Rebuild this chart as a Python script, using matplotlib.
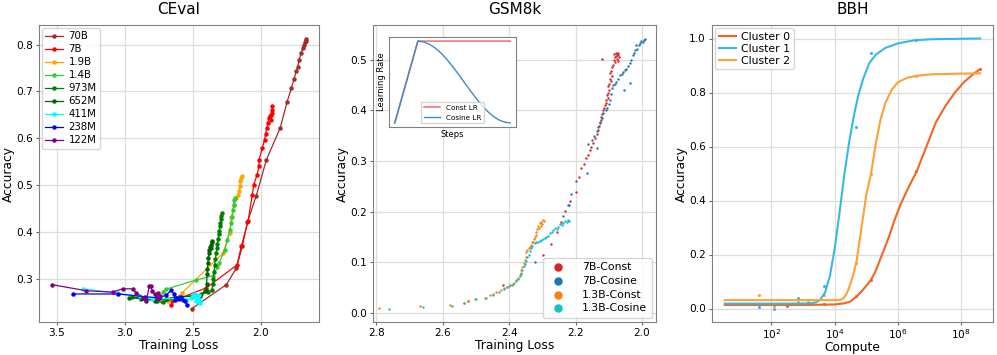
import numpy as np
import matplotlib
matplotlib.use('Agg')
import matplotlib.pyplot as plt

# ---------------- CEval: accuracy vs training loss per model size ----------------
ceval_names = ['70B', '7B', '1.9B', '1.4B', '973M', '652M', '411M', '238M', '122M']
ceval_colors = ['brown', 'red', 'orange', 'limegreen', 'green', 'darkgreen', 'cyan', 'blue', 'purple']

loss_70b = [2.505, 2.253, 2.179, 2.135, 2.098, 2.032, 1.958, 1.855, 1.806, 1.774, 1.755, 1.738, 1.726,
            1.718, 1.701, 1.689, 1.681, 1.674, 1.669, 1.664]
acc_70b = [0.237, 0.288, 0.323, 0.370, 0.421, 0.478, 0.554, 0.623, 0.677, 0.707, 0.726, 0.743, 0.753,
           0.767, 0.782, 0.793, 0.800, 0.805, 0.808, 0.813]
loss_7b = [2.657, 2.655, 2.400, 2.174, 2.142, 2.093, 2.061, 2.051, 2.027, 2.012, 2.012, 1.988, 1.971,
           1.963, 1.954, 1.946, 1.939, 1.929, 1.921, 1.925, 1.918, 1.914, 1.914]
acc_7b = [0.244, 0.252, 0.281, 0.330, 0.370, 0.423, 0.480, 0.501, 0.522, 0.540, 0.554, 0.579, 0.597,
          0.610, 0.622, 0.633, 0.643, 0.647, 0.650, 0.640, 0.655, 0.661, 0.670]
loss_19b = [2.730, 2.680, 2.620, 2.580, 2.277, 2.228, 2.215, 2.196, 2.179, 2.167, 2.160, 2.154, 2.149,
            2.142, 2.140]
acc_19b = [0.252, 0.254, 0.258, 0.270, 0.355, 0.398, 0.433, 0.458, 0.473, 0.480, 0.487, 0.498, 0.508,
           0.515, 0.520]
loss_14b = [2.720, 2.700, 2.473, 2.350, 2.320, 2.306, 2.265, 2.245, 2.228, 2.215, 2.208, 2.204, 2.199,
            2.196, 2.191]
acc_14b = [0.273, 0.278, 0.298, 0.307, 0.325, 0.334, 0.362, 0.384, 0.405, 0.419, 0.433, 0.448, 0.458,
           0.469, 0.473]
loss_973m = [2.950, 2.850, 2.760, 2.720, 2.620, 2.500, 2.440, 2.390, 2.360, 2.352, 2.348, 2.344, 2.338,
             2.333, 2.328, 2.323, 2.318, 2.313, 2.309, 2.305, 2.300, 2.296, 2.292, 2.289, 2.286]
acc_973m = [0.262, 0.258, 0.252, 0.250, 0.260, 0.264, 0.268, 0.272, 0.276, 0.290, 0.300, 0.315, 0.330,
            0.342, 0.355, 0.365, 0.375, 0.385, 0.395, 0.403, 0.412, 0.420, 0.428, 0.435, 0.441]
loss_652m = [2.970, 2.880, 2.780, 2.700, 2.600, 2.500, 2.449, 2.412, 2.400, 2.398, 2.395, 2.392, 2.388,
             2.385, 2.382, 2.378, 2.372, 2.368, 2.365, 2.362, 2.360]
acc_652m = [0.260, 0.258, 0.254, 0.258, 0.262, 0.264, 0.263, 0.274, 0.276, 0.290, 0.310, 0.322, 0.335,
            0.345, 0.355, 0.362, 0.368, 0.365, 0.372, 0.378, 0.381]
loss_411m = [3.307, 3.061, 2.890, 2.800, 2.620, 2.550, 2.510, 2.500, 2.485, 2.480, 2.473, 2.465, 2.458,
             2.452, 2.448, 2.445]
acc_411m = [0.279, 0.270, 0.263, 0.258, 0.258, 0.256, 0.260, 0.265, 0.267, 0.262, 0.252, 0.258, 0.250,
            0.265, 0.253, 0.248]
loss_238m = [3.380, 3.050, 2.850, 2.750, 2.700, 2.657, 2.640, 2.630, 2.620, 2.600, 2.590, 2.571, 2.555,
             2.546]
acc_238m = [0.268, 0.268, 0.262, 0.260, 0.265, 0.276, 0.268, 0.255, 0.260, 0.258, 0.262, 0.256, 0.252,
            0.245]
loss_122m = [3.539, 3.287, 3.090, 3.017, 2.944, 2.915, 2.866, 2.841, 2.821, 2.811, 2.797, 2.780, 2.767,
             2.755, 2.740]
acc_122m = [0.288, 0.275, 0.272, 0.279, 0.279, 0.270, 0.260, 0.254, 0.284, 0.284, 0.274, 0.268, 0.260,
            0.270, 0.263]

ceval_loss = [loss_70b, loss_7b, loss_19b, loss_14b, loss_973m, loss_652m, loss_411m, loss_238m, loss_122m]
ceval_acc = [acc_70b, acc_7b, acc_19b, acc_14b, acc_973m, acc_652m, acc_411m, acc_238m, acc_122m]

# ---------------- GSM8k: scatter of accuracy vs training loss ----------------
gsm_7b_const_loss = [2.120, 2.072, 2.075, 2.078, 2.082, 2.070, 2.085, 2.073, 2.080, 2.088, 2.076, 2.084,
                     2.071, 2.079, 2.090, 2.093, 2.095, 2.091, 2.097, 2.094, 2.099, 2.102, 2.100, 2.104,
                     2.106, 2.103, 2.108, 2.110, 2.112, 2.115, 2.117, 2.120, 2.123, 2.125, 2.128, 2.130,
                     2.134, 2.137, 2.142, 2.148, 2.153, 2.158, 2.163, 2.168, 2.175, 2.185, 2.190, 2.200,
                     2.216, 2.231, 2.243, 2.255, 2.275, 2.298, 2.419, 2.524]
gsm_7b_const_acc = [0.502, 0.510, 0.512, 0.508, 0.505, 0.505, 0.500, 0.498, 0.495, 0.490, 0.502, 0.512,
                    0.513, 0.514, 0.485, 0.478, 0.473, 0.468, 0.463, 0.458, 0.453, 0.448, 0.440, 0.435,
                    0.430, 0.425, 0.420, 0.415, 0.410, 0.405, 0.400, 0.393, 0.388, 0.382, 0.375, 0.370,
                    0.362, 0.354, 0.345, 0.335, 0.328, 0.321, 0.313, 0.307, 0.295, 0.287, 0.268, 0.238,
                    0.221, 0.201, 0.179, 0.160, 0.137, 0.114, 0.056, 0.024]
gsm_7b_cos_loss = [1.992, 1.995, 1.998, 2.002, 2.006, 2.010, 2.017, 2.015, 2.022, 2.025, 2.027, 2.032,
                   2.037, 2.042, 2.047, 2.052, 2.056, 2.060, 2.067, 2.072, 2.077, 2.082, 2.087, 2.037,
                   2.055, 2.090, 2.093, 2.097, 2.100, 2.105, 2.110, 2.117, 2.122, 2.127, 2.132, 2.137,
                   2.145, 2.152, 2.163, 2.137, 2.166, 2.198, 2.215, 2.220, 2.223, 2.238, 2.323]
gsm_7b_cos_acc = [0.542, 0.540, 0.535, 0.537, 0.533, 0.530, 0.530, 0.522, 0.520, 0.514, 0.510, 0.500,
                  0.493, 0.487, 0.482, 0.480, 0.476, 0.472, 0.470, 0.462, 0.457, 0.453, 0.450, 0.454,
                  0.440, 0.445, 0.432, 0.420, 0.412, 0.405, 0.400, 0.394, 0.385, 0.377, 0.368, 0.360,
                  0.350, 0.341, 0.334, 0.326, 0.277, 0.260, 0.236, 0.214, 0.213, 0.191, 0.100]
gsm_13b_const_loss = [2.792, 2.670, 2.579, 2.535, 2.524, 2.504, 2.474, 2.459, 2.450, 2.439, 2.426, 2.415,
                      2.408, 2.400, 2.393, 2.385, 2.378, 2.372, 2.368, 2.365, 2.363, 2.360, 2.356, 2.353,
                      2.350, 2.348, 2.345, 2.340, 2.337, 2.333, 2.330, 2.328, 2.325, 2.323, 2.320, 2.318,
                      2.315, 2.313, 2.310, 2.308, 2.305, 2.303, 2.300, 2.298, 2.295]
gsm_13b_const_acc = [0.010, 0.013, 0.016, 0.020, 0.023, 0.027, 0.030, 0.035, 0.038, 0.042, 0.045, 0.049,
                     0.052, 0.054, 0.056, 0.060, 0.065, 0.070, 0.075, 0.080, 0.085, 0.090, 0.098, 0.104,
                     0.110, 0.121, 0.125, 0.128, 0.130, 0.135, 0.140, 0.141, 0.146, 0.151, 0.155, 0.161,
                     0.165, 0.171, 0.168, 0.178, 0.172, 0.180, 0.176, 0.183, 0.181]
gsm_13b_cos_loss = [2.762, 2.658, 2.571, 2.537, 2.499, 2.469, 2.449, 2.430, 2.415, 2.408, 2.398, 2.388,
                    2.380, 2.373, 2.368, 2.363, 2.360, 2.356, 2.352, 2.348, 2.345, 2.340, 2.337, 2.333,
                    2.330, 2.323, 2.318, 2.313, 2.308, 2.303, 2.298, 2.293, 2.288, 2.283, 2.277, 2.272,
                    2.267, 2.262, 2.257, 2.252, 2.247, 2.242, 2.237, 2.232, 2.227, 2.222, 2.220]
gsm_13b_cos_acc = [0.009, 0.011, 0.013, 0.019, 0.027, 0.030, 0.036, 0.042, 0.048, 0.052, 0.055, 0.058,
                   0.063, 0.068, 0.073, 0.078, 0.085, 0.092, 0.097, 0.102, 0.110, 0.115, 0.122, 0.128,
                   0.133, 0.138, 0.141, 0.140, 0.143, 0.145, 0.147, 0.149, 0.150, 0.153, 0.158, 0.160,
                   0.163, 0.167, 0.165, 0.170, 0.176, 0.174, 0.178, 0.181, 0.180, 0.184, 0.182]

# inset: learning-rate schedules (steps 0..100)
lr_steps = [0, 10, 20, 25, 30, 35, 40, 45, 50, 55, 60, 65, 70, 75, 80, 85, 90, 95, 100]
lr_const = [0.0, 0.5, 1.0, 1.0, 1.0, 1.0, 1.0, 1.0, 1.0, 1.0, 1.0, 1.0, 1.0, 1.0, 1.0, 1.0, 1.0, 1.0, 1.0]
lr_cosine = [0.0, 0.5, 1.0, 0.990, 0.962, 0.916, 0.854, 0.778, 0.691, 0.598, 0.500, 0.402, 0.309,
             0.222, 0.146, 0.084, 0.038, 0.010, 0.0]

# ---------------- BBH: accuracy vs compute (log10) ----------------
bbh_names = ['Cluster 0', 'Cluster 1', 'Cluster 2']
bbh_colors = ['#f26522', '#35b9e9', '#ffa033']
c0_pts_logx = [2.083, 2.500, 2.830, 3.146, 3.667, 4.690, 5.146, 6.580, 8.590]
c0_pts_acc = [0.012, 0.010, 0.020, 0.020, 0.015, 0.045, 0.106, 0.511, 0.887]
c1_pts_logx = [1.604, 2.083, 2.830, 3.146, 3.667, 4.690, 5.146, 6.580]
c1_pts_acc = [0.006, 0.000, 0.040, 0.015, 0.085, 0.674, 0.945, 0.994]
c2_pts_logx = [1.604, 2.083, 2.830, 3.146, 3.667, 4.690, 5.146, 6.580]
c2_pts_acc = [0.050, 0.009, 0.025, 0.033, 0.050, 0.170, 0.500, 0.861]
c0_fit_logx = [0.53, 2.0, 3.0, 4.0, 4.3, 4.5, 4.7, 4.9, 5.15, 5.3, 5.5, 5.7, 5.9, 6.1, 6.3, 6.6, 6.9,
               7.2, 7.5, 7.8, 8.1, 8.4, 8.6]
c0_fit_acc = [0.013, 0.013, 0.013, 0.015, 0.019, 0.026, 0.045, 0.070, 0.106, 0.140, 0.200, 0.260,
              0.330, 0.390, 0.440, 0.510, 0.600, 0.690, 0.750, 0.800, 0.840, 0.870, 0.887]
c1_fit_logx = [0.53, 2.5, 3.2, 3.4, 3.55, 3.7, 3.85, 4.0, 4.15, 4.3, 4.45, 4.6, 4.75, 4.9, 5.1, 5.3,
               5.6, 6.0, 6.5, 7.0, 8.0, 8.6]
c1_fit_acc = [0.018, 0.018, 0.019, 0.022, 0.033, 0.060, 0.120, 0.220, 0.350, 0.490, 0.610, 0.710,
              0.790, 0.850, 0.910, 0.940, 0.965, 0.982, 0.993, 0.997, 0.999, 1.000]
c2_fit_logx = [0.53, 2.0, 3.0, 4.0, 4.2, 4.3, 4.4, 4.5, 4.6, 4.7, 4.8, 4.9, 5.0, 5.15, 5.3, 5.45, 5.6,
               5.8, 6.0, 6.3, 6.6, 7.0, 8.0, 8.6]
c2_fit_acc = [0.031, 0.031, 0.031, 0.031, 0.033, 0.040, 0.060, 0.090, 0.130, 0.180, 0.260, 0.340,
              0.420, 0.500, 0.610, 0.700, 0.760, 0.810, 0.838, 0.855, 0.862, 0.867, 0.870, 0.871]

bbh_pts = [(c0_pts_logx, c0_pts_acc), (c1_pts_logx, c1_pts_acc), (c2_pts_logx, c2_pts_acc)]
bbh_fit = [(c0_fit_logx, c0_fit_acc), (c1_fit_logx, c1_fit_acc), (c2_fit_logx, c2_fit_acc)]

# ---------------- figure ----------------
plt.rcParams['font.family'] = 'DejaVu Sans'
fig = plt.figure(figsize=(9.97, 3.55), dpi=100)
W, H = 997.0, 355.0
ax1 = fig.add_axes([39 / W, 33 / H, 280 / W, 297 / H])
ax2 = fig.add_axes([373 / W, 33 / H, 283 / W, 297 / H])
ax3 = fig.add_axes([712 / W, 33 / H, 281 / W, 297 / H])

def style(ax, title, xlabel, xpad=0.5):
    ax.set_title(title, fontsize=11, pad=8)
    ax.set_xlabel(xlabel, fontsize=8.8, labelpad=xpad)
    ax.set_ylabel('Accuracy', fontsize=8.8, labelpad=1)
    ax.tick_params(labelsize=7.6, length=2.5, pad=2, color='0.4')
    ax.grid(True, color='#dddddd', linewidth=0.9)
    ax.set_axisbelow(True)
    for s in ax.spines.values():
        s.set_color('0.5')

# CEval
for name, c, x, y in zip(ceval_names, ceval_colors, ceval_loss, ceval_acc):
    ax1.plot(x, y, '-o', color=c, label=name, linewidth=0.9, markersize=2.2)
ax1.invert_xaxis()
style(ax1, 'CEval', 'Training Loss')
ax1.set_xticks([3.5, 3.0, 2.5, 2.0])
ax1.set_yticks([0.3, 0.4, 0.5, 0.6, 0.7, 0.8])
ax1.legend(loc='upper left', fontsize=7.3, handlelength=1.8, borderaxespad=0.25, labelspacing=0.3,
           borderpad=0.35, handletextpad=0.5, edgecolor='0.8')

# GSM8k
gsm_series = [('7B-Const', '#d62728', gsm_7b_const_loss, gsm_7b_const_acc),
              ('7B-Cosine', '#1f77b4', gsm_7b_cos_loss, gsm_7b_cos_acc),
              ('1.3B-Const', '#ff7f0e', gsm_13b_const_loss, gsm_13b_const_acc),
              ('1.3B-Cosine', '#17becf', gsm_13b_cos_loss, gsm_13b_cos_acc)]
for name, c, x, y in gsm_series:
    ax2.scatter(x, y, s=3, color=c, label=name, linewidths=0)
ax2.set_xlim(2.81, 1.958)
ax2.set_xticks([2.8, 2.6, 2.4, 2.2, 2.0])
ax2.set_yticks([0.0, 0.1, 0.2, 0.3, 0.4, 0.5])
style(ax2, 'GSM8k', 'Training Loss')
ax2.legend(loc='lower right', fontsize=7.8, markerscale=3.5, borderaxespad=0.4, labelspacing=0.35,
           handletextpad=1.2, edgecolor='0.8')

# inset
axi = fig.add_axes([389 / W, (H - 127) / H, 127 / W, 90 / H])
axi.plot(lr_steps, lr_const, color='#ee7b7b', linewidth=1.2, label='Const LR')
axi.plot(lr_steps, lr_cosine, color='#3d8bc7', linewidth=1.0, label='Cosine LR')
axi.set_xticks([])
axi.set_yticks([])
axi.set_xlabel('Steps', fontsize=6, labelpad=2)
axi.set_ylabel('Learning Rate', fontsize=6, labelpad=2)
for s in axi.spines.values():
    s.set_color('0.5')
axi.legend(loc='lower center', fontsize=5.2, handlelength=2.3, edgecolor='0.8', borderpad=0.4)

# BBH
for name, c, (fx, fy), (px, py) in zip(bbh_names, bbh_colors, bbh_fit, bbh_pts):
    ax3.plot(10 ** np.array(fx), fy, color=c, linewidth=1.5, label=name)
    ax3.scatter(10 ** np.array(px), py, s=5, color=c, linewidths=0)
ax3.set_xscale('log')
ax3.set_xticks([1e2, 1e4, 1e6, 1e8])
ax3.minorticks_off()
ax3.set_yticks([0.0, 0.2, 0.4, 0.6, 0.8, 1.0])
style(ax3, 'BBH', 'Compute', xpad=0)
ax3.tick_params(axis='x', pad=1)
ax3.legend(loc='upper left', fontsize=7.8, handlelength=1.6, borderaxespad=0.3, labelspacing=0.2,
           borderpad=0.3, handletextpad=0.5, edgecolor='0.8')

fig.savefig('out.png', dpi=100)
